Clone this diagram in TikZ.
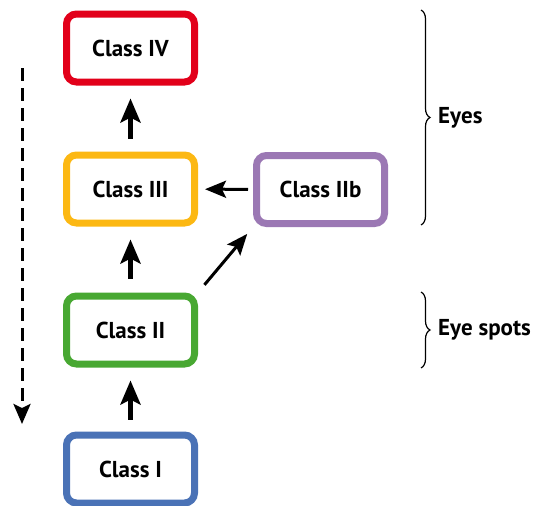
\documentclass[tikz,border=0pt]{standalone}
\usepackage{fontspec}
\setmainfont{PT Sans}
\usetikzlibrary{arrows.meta,decorations.pathreplacing}
\definecolor{cIV}{RGB}{226,0,26}
\definecolor{cIII}{RGB}{252,184,19}
\definecolor{cIIb}{RGB}{155,120,180}
\definecolor{cII}{RGB}{72,168,50}
\definecolor{cI}{RGB}{74,114,182}
\tikzset{
  classbox/.style={draw=#1, line width=7pt, rounded corners=10pt, minimum width=128pt, minimum height=68pt, inner sep=0pt, font=\fontsize{23}{26}\selectfont\bfseries, text=black},
  bigarrow/.style={line width=5pt, -{Stealth[length=24pt,width=20pt,inset=5pt]}},
  thinarrow/.style={line width=3pt, -{Stealth[length=21pt,width=17pt,inset=4pt]}},
  bracestyle/.style={line width=1.2pt, decorate, decoration={brace, amplitude=9pt}},
  lab/.style={anchor=west, inner sep=0pt, font=\fontsize{23}{26}\selectfont\bfseries}
}
\begin{document}
\begin{tikzpicture}[x=1pt,y=-1pt]
\useasboundingbox (0,0) rectangle (541,506);
\node[classbox=cIV] (c4) at (130.5,48) {Class IV};
\node[classbox=cIII] (c3) at (130.5,189) {Class III};
\node[classbox=cIIb] (c2b) at (320.5,189.5) {Class IIb};
\node[classbox=cII] (c2) at (130.5,330) {Class II};
\node[classbox=cI] (c1) at (130.5,469) {Class I};
\draw[bigarrow, shorten <=13pt, shorten >=13pt] (c3) -- (c4);
\draw[bigarrow, shorten <=14pt, shorten >=13pt] (c2) -- (c3);
\draw[bigarrow, shorten <=12pt, shorten >=13pt] (c1) -- (c2);
\draw[thinarrow, shorten <=5pt, shorten >=7pt] (c2b) -- (c3);
\draw[thinarrow, shorten <=10pt, shorten >=9pt] (c2.north east) -- (c2b.south west);
\coordinate (dtop) at (22,68);
\coordinate (dbot) at (22,424);
\draw[line width=3pt, dash pattern=on 13pt off 7pt, -{Stealth[length=20pt,width=17pt,inset=4pt]}] (dtop) -- (dbot);
\coordinate (b1s) at (421,10);
\coordinate (b1e) at (421,225);
\coordinate (b2s) at (421,292);
\coordinate (b2e) at (421,368);
\draw[bracestyle] (b1s) -- (b1e);
\draw[bracestyle] (b2s) -- (b2e);
\node[lab] (eyes) at (438,118) {Eyes};
\node[lab] (spots) at (438,330) {Eye spots};
\end{tikzpicture}
\end{document}
